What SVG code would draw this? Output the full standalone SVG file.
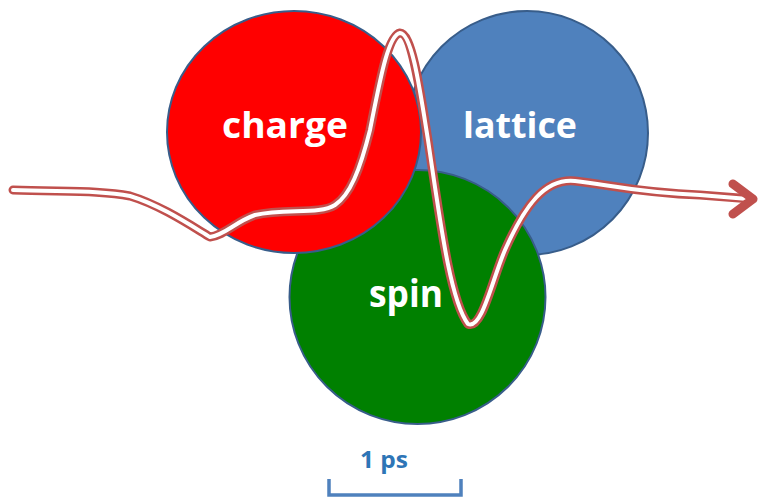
<svg xmlns="http://www.w3.org/2000/svg" width="758" height="502" viewBox="0 0 758 502">
<style>
.c{stroke:#385D8A;stroke-width:2}
.t{font-family:"Open Sans","Liberation Sans",sans-serif;font-weight:700;fill:#fff}
.w1{fill:none;stroke:#C0504D;stroke-width:9;stroke-linecap:round;stroke-linejoin:round}
.w2{fill:none;stroke:#fff;stroke-width:4;stroke-linecap:round;stroke-linejoin:round}
</style>
<rect width="758" height="502" fill="#fff"/>
<g id="lattice">
<ellipse class="c" cx="527" cy="133" rx="121" ry="122" fill="#4F81BD"/>
<text class="t" x="463" y="138" font-size="36" textLength="114" lengthAdjust="spacingAndGlyphs">lattice</text>
</g>
<g id="spin">
<ellipse class="c" cx="417.5" cy="297" rx="128" ry="127" fill="#008000"/>
<text class="t" x="369" y="307" font-size="37" textLength="74" lengthAdjust="spacingAndGlyphs">spin</text>
</g>
<g id="charge">
<ellipse class="c" cx="294" cy="132" rx="127" ry="121" fill="#FF0000"/>
<text class="t" x="222" y="138" font-size="36" textLength="126" lengthAdjust="spacingAndGlyphs">charge</text>
</g>
<g id="connectors">
<path id="wave" class="w1" d="M13,190 C60,192 100,190 130,196 C160,205 190,225 210,237 C225,235 235,222 255,215 C285,208 320,215 335,205 C350,195 360,170 370,130 C380,80 388,35 400,33 C412,33 420,90 428,140 C440,220 450,300 468,324 C482,330 492,280 505,250 C525,205 545,178 575,181 C610,185 640,193 700,195 L752,199"/>
<path class="w2" d="M13,190 C60,192 100,190 130,196 C160,205 190,225 210,237 C225,235 235,222 255,215 C285,208 320,215 335,205 C350,195 360,170 370,130 C380,80 388,35 400,33 C412,33 420,90 428,140 C440,220 450,300 468,324 C482,330 492,280 505,250 C525,205 545,178 575,181 C610,185 640,193 700,195 L748,199"/>
<polyline class="w1" points="733,184 753,199 733,214"/>
</g>
<g id="scale">
<text x="360" y="468" font-family="'Open Sans','Liberation Sans',sans-serif" font-weight="700" font-size="23" fill="#2E75B6" textLength="48" lengthAdjust="spacingAndGlyphs">1 ps</text>
<polyline points="329,479 329,495 461,495 461,479" fill="none" stroke="#4F81BD" stroke-width="3.5"/>
</g>
</svg>
